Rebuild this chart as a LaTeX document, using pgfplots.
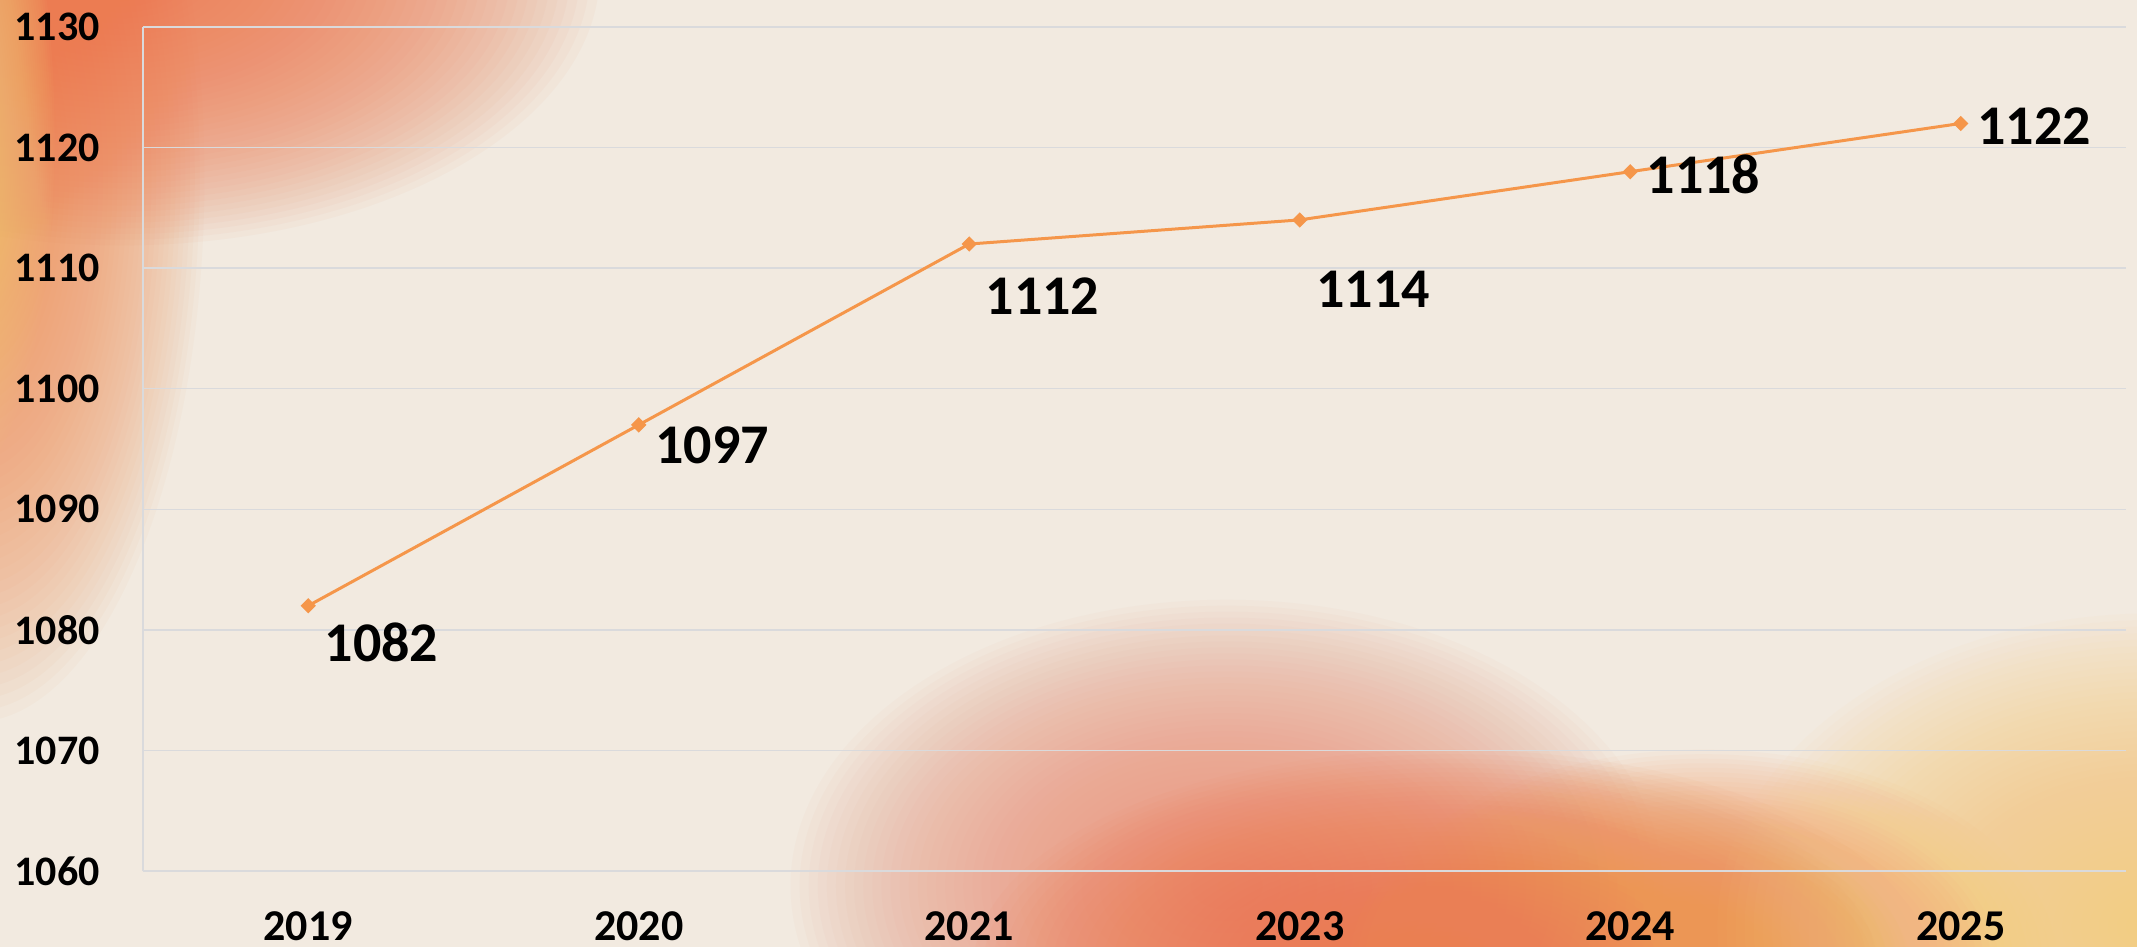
\documentclass[border=0pt]{standalone}
\usepackage{fontspec}
\setmainfont{Carlito}
\usepackage{pgfplots}
\pgfplotsset{compat=1.18}
\definecolor{bg}{RGB}{242,234,224}
\definecolor{gridc}{RGB}{218,218,220}
\definecolor{linec}{RGB}{245,150,74}
\definecolor{coral}{RGB}{236,124,82}
\definecolor{pinkc}{RGB}{234,150,125}
\definecolor{orangec}{RGB}{242,150,85}
\definecolor{yellowc}{RGB}{246,205,130}
\definecolor{ylorange}{RGB}{238,150,95}
\newcommand{\blob}[5]{\foreach \k in {1,...,48}{\fill[#1, opacity=0.042] (#2,#3) ellipse ({#4/48*\k} and {#5/48*\k});}}
\pgfplotstableread{
x y dy
0 1082 18.4
1 1097 10.2
2 1112 25.9
3 1114 34.8
4 1118 1.4
5 1122 1.4
}\datatable
\begin{document}
\begin{tikzpicture}
\useasboundingbox (0,0) rectangle (1068.5bp,473.5bp);
\begin{scope}
\clip (0,0) rectangle (1068.5bp,473.5bp);
\fill[bg] (0,0) rectangle (1068.5bp,473.5bp);
\begin{scope}[shift={(0,473.5bp)}, x=0.6815bp, y=-0.6815bp]
% top-left
\blob{ylorange}{-20}{130}{170}{400}
\blob{coral}{90}{-20}{350}{200}
\blob{yellowc}{-35}{100}{75}{260}
% bottom
\blob{pinkc}{900}{650}{320}{210}
\blob{coral}{1064}{710}{350}{160}
\blob{orangec}{1250}{710}{260}{160}
\blob{yellowc}{1580}{680}{320}{230}
\end{scope}
\end{scope}
\begin{axis}[
  at={(71.5bp,38bp)}, anchor=south west,
  scale only axis, width=991.5bp, height=422bp,
  xmin=-0.5, xmax=5.5, ymin=1060, ymax=1130,
  xtick={0,...,5}, xticklabels={2019,2020,2021,2023,2024,2025},
  ytick={1060,1070,...,1130},
  axis lines*=left,
  axis line style={-, draw=gridc, line width=0.75bp},
  ymajorgrids, grid style={gridc, line width=0.75bp},
  major tick length=0pt, tick style={draw=none},
  /pgf/number format/assume math mode=true,
  /pgf/number format/1000 sep={},
  yticklabel style={font=\bfseries\fontsize{21bp}{21bp}\selectfont, text=black, anchor=east, inner sep=0pt, xshift=-21.5bp},
  xticklabel style={font=\bfseries\fontsize{22bp}{22bp}\selectfont, text=black, anchor=north, inner sep=0pt, yshift=-20bp},
  clip=false,
]
\addplot[linec, line width=1.5bp, mark=square*, mark size=1.95bp,
  mark options={solid, rotate=45, fill=linec, draw=linec},
  nodes near coords,
  visualization depends on={\thisrow{dy} \as \dy},
  every node near coord/.append style={anchor=west, inner sep=0pt, xshift=7.5bp, yshift=-\dy*1bp, font=\bfseries\fontsize{28bp}{28bp}\selectfont, text=black}
] table[x=x, y=y] {\datatable};
\end{axis}
\end{tikzpicture}
\end{document}
